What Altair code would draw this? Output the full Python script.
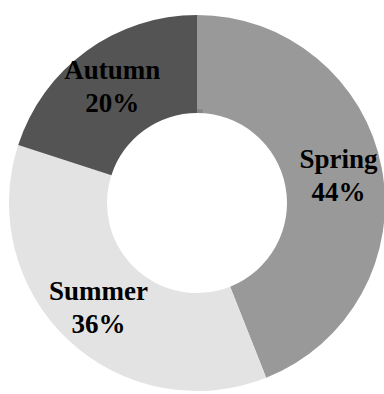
import altair as alt
import pandas as pd

seasons = ["Spring", "Summer", "Autumn"]
values = [44, 36, 20]
colors = ["#999999", "#e3e3e3", "#545454"]

df = pd.DataFrame({
    "season": seasons,
    "value": values,
    "idx": list(range(len(seasons))),
    "label": [f"{s}\n{v}%" for s, v in zip(seasons, values)],
})

ring = pd.DataFrame({"v": [1]})

base = alt.Chart(df).encode(
    theta=alt.Theta("value:Q", stack=True),
    order=alt.Order("idx:Q"),
)

shadow1 = alt.Chart(ring).mark_arc(
    outerRadius=189, innerRadius=100, color="#000000", opacity=0.12, xOffset=-3, yOffset=6
).encode(theta=alt.Theta("v:Q"))
shadow2 = alt.Chart(ring).mark_arc(
    outerRadius=188, innerRadius=100, color="#000000", opacity=0.22, xOffset=-1, yOffset=3
).encode(theta=alt.Theta("v:Q"))

arcs = base.mark_arc(outerRadius=188, innerRadius=90).encode(
    color=alt.Color("season:N", scale=alt.Scale(domain=seasons, range=colors), legend=None)
)

inner_shade = alt.Chart(ring).mark_arc(
    outerRadius=94, innerRadius=90, color="#000000", opacity=0.12
).encode(theta=alt.Theta("v:Q"))

labels = base.mark_text(
    radius=144, font="Liberation Serif", fontWeight="bold", fontSize=27,
    color="#000000", lineBreak="\n", lineHeight=33, align="center", baseline="middle",
    dy=-16
).encode(text="label:N")

chart = alt.layer(shadow1, shadow2, arcs, inner_shade, labels).properties(
    width=374, height=382,
    padding={"left": 10, "top": 12, "right": 0, "bottom": 0},
    autosize=alt.AutoSizeParams(type="none"),
    background="white",
).configure_view(stroke=None)

chart.save("out.html", embed_options={"renderer": "svg", "actions": False})
